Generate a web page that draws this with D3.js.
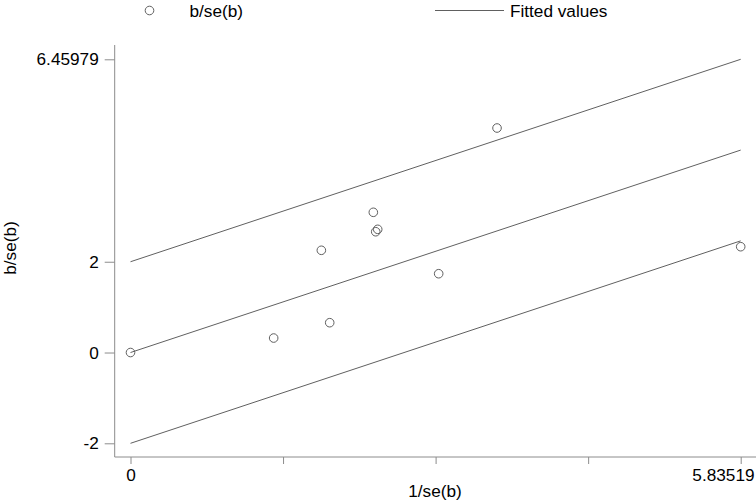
<!DOCTYPE html>
<html>
<head>
<meta charset="utf-8">
<script src="https://cdn.jsdelivr.net/npm/d3@7"></script>
<style>
  body { margin: 0; background: #fff; }
  svg text { font-family: "Liberation Sans", Arial, sans-serif; fill: #000; }
</style>
</head>
<body>
<svg id="chart" width="756" height="502"></svg>
<script>
// precision (1/se) and standardized estimate (b/se) per study
const precision = [0, 1.369, 1.825, 1.905, 2.322, 2.364, 2.345, 2.947, 3.505, 5.83519];
const zScore    = [0, 0.319, 2.252, 0.657, 3.089, 2.714, 2.661, 1.736, 4.946, 2.331];
// fitted line through origin plus the +/-2 bands
const slope = 4.45979 / 5.83519;
const bandOffsets = [2, 0, -2];
const xTicks = [0, 5.83519 / 4, 5.83519 / 2, 5.83519 * 3 / 4, 5.83519];
const xTickLabels = ['0', '', '', '', '5.83519'];
const yTicks = [-2, 0, 2, 6.45979];
const yTickLabels = ['-2', '0', '2', '6.45979'];

const svg = d3.select('#chart');
const grey = '#8c8c8c';
const markColor = '#606060';
const fontSize = '17.2px';

const x = d3.scaleLinear().domain([0, 5.83519]).range([130.5, 740.7]);
const y = d3.scaleLinear().domain([-2, 6.45979]).range([443.3, 59.3]);

const axisLeftX = 114.7, axisBottomY = 457;

// y axis
const yAxis = svg.append('g')
  .attr('transform', `translate(${axisLeftX},0)`)
  .call(d3.axisLeft(y).tickValues(yTicks).tickSize(10).tickPadding(6)
    .tickFormat((d, i) => yTickLabels[i]));
yAxis.select('.domain').remove();
yAxis.selectAll('.tick line').attr('stroke', grey);
yAxis.selectAll('.tick text').style('font-size', fontSize);
svg.append('line')
  .attr('x1', axisLeftX).attr('x2', axisLeftX)
  .attr('y1', 45).attr('y2', axisBottomY)
  .attr('stroke', grey);

// x axis
const xAxis = svg.append('g')
  .attr('transform', `translate(0,${axisBottomY})`)
  .call(d3.axisBottom(x).tickValues(xTicks).tickSize(7).tickPadding(5)
    .tickFormat((d, i) => xTickLabels[i]));
xAxis.select('.domain').remove();
xAxis.selectAll('.tick line').attr('stroke', grey);
xAxis.selectAll('.tick text').style('font-size', fontSize);
// last label is pushed inside the frame, as in the original
xAxis.selectAll('.tick text').filter((d, i) => i === xTicks.length - 1)
  .attr('text-anchor', 'end')
  .attr('x', 754 - x(5.83519));
svg.append('line')
  .attr('x1', axisLeftX).attr('x2', 756)
  .attr('y1', axisBottomY).attr('y2', axisBottomY)
  .attr('stroke', grey);

// axis titles
svg.append('text')
  .attr('x', 435).attr('y', 497)
  .attr('text-anchor', 'middle')
  .style('font-size', fontSize)
  .text('1/se(b)');
svg.append('text')
  .attr('transform', 'translate(16,248) rotate(-90)')
  .attr('text-anchor', 'middle')
  .style('font-size', fontSize)
  .text('b/se(b)');

// fitted lines
const line = d3.line().x(d => x(d[0])).y(d => y(d[1]));
svg.append('g')
  .selectAll('path')
  .data(bandOffsets)
  .join('path')
  .attr('d', b => line([[0, b], [5.83519, b + slope * 5.83519]]))
  .attr('fill', 'none')
  .attr('stroke', markColor)
  .attr('stroke-width', 1);

// study points
svg.append('g')
  .selectAll('circle')
  .data(precision)
  .join('circle')
  .attr('cx', d => x(d))
  .attr('cy', (d, i) => y(zScore[i]))
  .attr('r', 4.3)
  .attr('fill', 'none')
  .attr('stroke', markColor)
  .attr('stroke-width', 1);

// legend
const legend = svg.append('g');
legend.append('circle')
  .attr('cx', 149.5).attr('cy', 10.5).attr('r', 4.3)
  .attr('fill', 'none').attr('stroke', markColor);
legend.append('text')
  .attr('x', 189.5).attr('y', 16.5)
  .style('font-size', fontSize)
  .text('b/se(b)');
legend.append('line')
  .attr('x1', 435).attr('x2', 504)
  .attr('y1', 10.5).attr('y2', 10.5)
  .attr('stroke', markColor);
legend.append('text')
  .attr('x', 510).attr('y', 16.5)
  .style('font-size', fontSize)
  .text('Fitted values');
</script>
</body>
</html>
